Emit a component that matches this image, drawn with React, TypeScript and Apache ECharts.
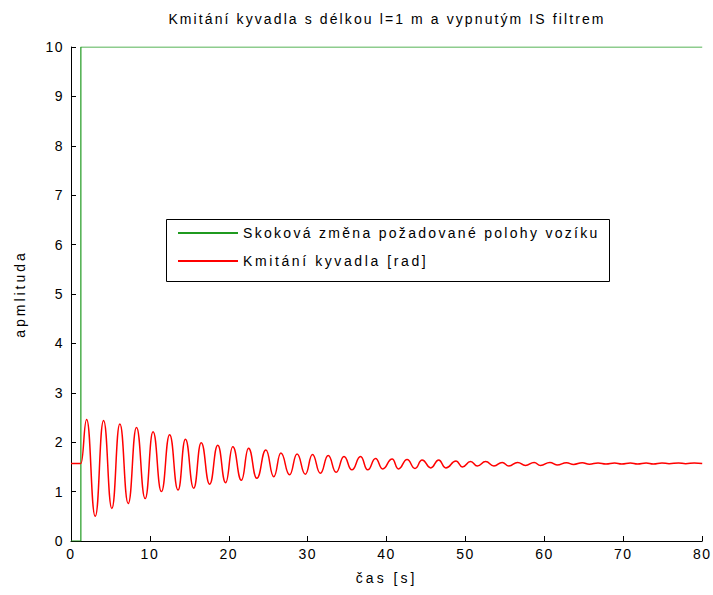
import React, { useEffect, useRef } from "react";
import * as echarts from "echarts";

const titleText = "Kmitání kyvadla s délkou l=1 m a vypnutým IS filtrem";
const xAxisName = "čas [s]";
const yAxisName = "apmlituda";
const seriesNames = ["Skoková změna požadované polohy vozíku", "Kmitání kyvadla [rad]"];

// step of the requested cart position
const stepTime = [0, 1.25, 1.25, 80];
const stepValue = [0, 0, 10, 10];

// pendulum swing: read extremes (peaks / troughs) from the picture
const pendulumTime = [
  0, 1.25, 1.98, 3.07, 4.13, 5.18, 6.19, 7.25, 8.3, 9.4, 10.4, 11.46, 12.5, 13.57, 14.5, 15.55,
  16.5, 17.57, 18.6, 19.6, 20.5, 21.6, 22.5, 23.55, 24.7, 25.7, 26.6, 27.7, 28.65, 29.7, 30.6,
  31.6, 32.6, 33.6, 34.6, 35.6, 36.7, 37.6, 38.6, 39.5, 40.7, 41.5, 42.6, 43.6, 44.5, 45.6, 46.6,
  47.5, 48.8, 49.6, 50.65, 51.5, 52.55, 53.6, 54.65, 55.5, 56.6, 57.6, 58.7, 59.5, 60.7, 61.6,
  62.8, 63.7, 64.8, 65.7, 66.8, 67.8, 68.9, 69.8, 70.9, 71.8, 72.9, 73.8, 74.9, 75.8, 77.0, 77.9,
  79.0, 80,
];
const pendulumValue = [
  1.57, 1.57, 2.46, 0.5, 2.44, 0.66, 2.37, 0.76, 2.3, 0.86, 2.21, 1.0, 2.15, 1.03, 2.06, 1.07,
  1.99, 1.15, 1.94, 1.18, 1.91, 1.23, 1.88, 1.27, 1.84, 1.3, 1.78, 1.34, 1.76, 1.35, 1.75,
  1.37, 1.73, 1.39, 1.71, 1.44, 1.71, 1.44, 1.67, 1.46, 1.66, 1.46, 1.65, 1.47, 1.64, 1.48, 1.64,
  1.48, 1.62, 1.5, 1.61, 1.52, 1.61, 1.52, 1.59, 1.52, 1.59, 1.53, 1.59, 1.53, 1.59, 1.54,
  1.585, 1.55, 1.585, 1.555, 1.58, 1.56, 1.58, 1.56, 1.58, 1.56, 1.58, 1.56, 1.58, 1.565, 1.58, 1.565,
  1.58, 1.57,
];

const FONT = "'Liberation Sans', Arial, sans-serif";

export default function App() {
  const ref = useRef<HTMLDivElement | null>(null);

  useEffect(() => {
    if (!ref.current) return;
    const chart = echarts.init(ref.current, null, { renderer: "svg" });

    const stepData = stepTime.map((t, i) => [t, stepValue[i]]);
    const pendData = pendulumTime.map((t, i) => [t, pendulumValue[i]]);

    const axisCommon = {
      axisLine: { show: true, lineStyle: { color: "#000", width: 1 } },
      axisTick: { show: true, inside: true, length: 5, lineStyle: { color: "#000" } },
      splitLine: { show: false },
      axisLabel: { color: "#000", fontFamily: FONT, fontSize: 14 },
      nameTextStyle: { color: "#000", fontFamily: FONT, fontSize: 14 },
    };

    chart.setOption({
      animation: false,
      backgroundColor: "#fff",
      title: {
        text: titleText,
        left: 382,
        textAlign: "center",
        top: 7,
        textStyle: { color: "#000", fontFamily: FONT, fontSize: 14, fontWeight: "normal" },
      },
      grid: { left: 71, right: 9, top: 47, bottom: 54, containLabel: false },
      xAxis: {
        type: "value",
        min: 0,
        max: 80,
        interval: 10,
        name: xAxisName,
        nameLocation: "middle",
        nameGap: 30,
        ...axisCommon,
        axisLabel: { ...axisCommon.axisLabel, margin: 6 },
      },
      yAxis: {
        type: "value",
        min: 0,
        max: 10,
        interval: 1,
        name: yAxisName,
        nameLocation: "middle",
        nameGap: 44,
        ...axisCommon,
        axisLabel: { ...axisCommon.axisLabel, margin: 7 },
      },
      legend: {
        left: 177,
        top: 226,
        orient: "vertical",
        itemWidth: 60,
        itemHeight: 14,
        itemGap: 14,
        padding: 0,
        itemStyle: { opacity: 0, borderWidth: 0 },
        textStyle: { color: "#000", fontFamily: FONT, fontSize: 14 },
        data: seriesNames,
      },
      graphic: [
        {
          type: "rect",
          shape: { x: 166.5, y: 219.5, width: 443, height: 62 },
          style: { fill: "rgba(0,0,0,0)", stroke: "#000", lineWidth: 1 },
          z: 10,
          silent: true,
        },
      ],
      series: [
        {
          name: seriesNames[0],
          type: "line",
          data: stepData,
          showSymbol: false,
          symbol: "none",
          lineStyle: { color: "#1f9a1f", width: 1.2 },
          itemStyle: { color: "#1f9a1f" },
        },
        {
          name: seriesNames[1],
          type: "line",
          data: pendData,
          showSymbol: false,
          symbol: "none",
          smooth: 0.5,
          smoothMonotone: "x",
          lineStyle: { color: "#ff0000", width: 1.5 },
          itemStyle: { color: "#ff0000" },
        },
      ],
    });

    const applySpacing = () => {
      const svg = ref.current?.querySelector("svg");
      if (!svg) return;
      svg.querySelectorAll("text").forEach((t) => {
        const s = t.textContent || "";
        let sp = 2;
        if (s === seriesNames[0]) sp = 2.3;
        else if (s === seriesNames[1]) sp = 2.6;
        else if (s === titleText) sp = 2.1;
        else if (/^\d+$/.test(s)) sp = 1.5;
        else if (s === xAxisName || s === yAxisName) sp = 3;
        t.setAttribute("letter-spacing", String(sp));
      });
    };
    applySpacing();
    chart.on("finished", applySpacing);

    return () => {
      chart.dispose();
    };
  }, []);

  return (
    <div
      ref={ref}
      style={{ position: "fixed", left: 0, top: 0, width: 713, height: 595, background: "#fff" }}
    />
  );
}
